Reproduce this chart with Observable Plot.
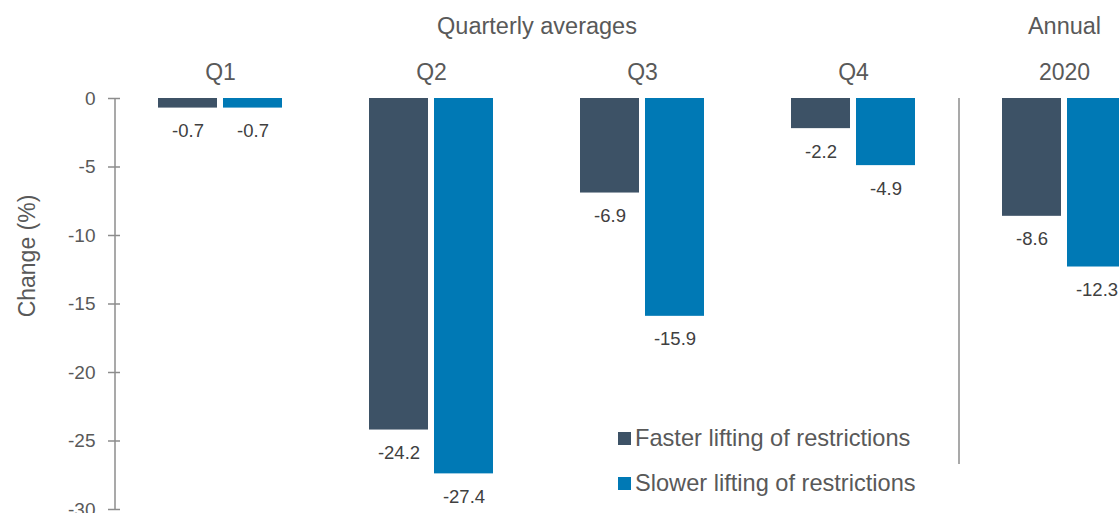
<!DOCTYPE html>
<html>
<head>
<meta charset="utf-8">
<script src="https://cdn.jsdelivr.net/npm/d3@7"></script>
<script src="https://cdn.jsdelivr.net/npm/@observablehq/plot@0.6"></script>
<style>
  html, body { margin: 0; padding: 0; background: #fff; }
  #wrap { position: relative; width: 1119px; height: 513px; overflow: hidden; font-family: "Liberation Sans", Arial, sans-serif; }
  #legend { position: absolute; left: 618px; top: 416px; color: #595959; font-size: 23.6px; }
  #legend .row { display: flex; align-items: center; height: 45px; }
  #legend .sw { width: 13px; height: 13px; margin-right: 4px; }
</style>
</head>
<body>
<div id="wrap"></div>
<script>
// Groups along the x axis: four quarters plus the annual figure
const groups = ["Q1", "Q2", "Q3", "Q4", "2020"];
// Scenario names and colours
const seriesNames = ["Faster lifting of restrictions", "Slower lifting of restrictions"];
const seriesColors = ["#3D5266", "#0079B5"];
// Change (%) per group, one array per scenario
const fasterValues = [-0.7, -24.2, -6.9, -2.2, -8.6];
const slowerValues = [-0.7, -27.4, -15.9, -4.9, -12.3];
// Y axis ticks
const yTicks = [0, -5, -10, -15, -20, -25, -30];
// Header texts
const quarterlyHeader = "Quarterly averages";
const annualHeader = "Annual";
const yLabel = "Change (%)";

const faster = groups.map((g, i) => ({group: g, value: fasterValues[i]}));
const slower = groups.map((g, i) => ({group: g, value: slowerValues[i]}));

const font = '"Liberation Sans", Arial, sans-serif';
const labelColor = "#404040";
const textColor = "#595959";
const axisColor = "#8C8C8C";
const halfStep = 105.5; // half the distance between group centres

const chart = Plot.plot({
  width: 1119,
  height: 513,
  marginTop: 98,
  marginBottom: 4,
  marginLeft: 115,
  marginRight: 0,
  style: {fontFamily: font, background: "white"},
  x: {domain: groups, range: [115, 1170], paddingInner: 0.412, paddingOuter: 0.206, axis: null},
  y: {domain: [-30, 0], axis: null},
  marks: [
    // y axis line
    Plot.ruleX(["Q1"], {x: d => d, dx: -halfStep, stroke: axisColor, strokeWidth: 1.5}),
    // separator before the annual group
    Plot.ruleX(["2020"], {x: d => d, dx: -halfStep, stroke: axisColor, strokeWidth: 1.5, insetBottom: 45}),
    Plot.axisY({ticks: yTicks, tickFormat: d => `${d}`, tickSize: 12, dx: 5, tickPadding: 13,
      stroke: axisColor, strokeWidth: 1.5, fill: textColor, fontSize: 19, label: null}),
    Plot.text([yLabel], {frameAnchor: "left", textAnchor: "middle", rotate: -90, dx: -88, dy: -48, fontSize: 23, fill: textColor}),
    Plot.axisX({anchor: "top", tickSize: 0, tickPadding: 19, fontSize: 23, fill: textColor, label: null}),
    Plot.text([quarterlyHeader], {x: () => "Q2", dx: halfStep, frameAnchor: "top", dy: -72, lineAnchor: "middle", fontSize: 23.5, fill: textColor}),
    Plot.text([annualHeader], {x: () => "2020", frameAnchor: "top", dy: -72, lineAnchor: "middle", fontSize: 23.5, fill: textColor}),
    // bars
    Plot.barY(faster, {x: "group", y: "value", fill: seriesColors[0], insetRight: 65}),
    Plot.barY(slower, {x: "group", y: "value", fill: seriesColors[1], insetLeft: 65}),
    // value labels below each bar
    Plot.text(faster, {x: "group", y: "value", text: d => d.value.toFixed(1), dx: -32.5, dy: 16, lineAnchor: "top", fontSize: 18.5, fill: labelColor}),
    Plot.text(slower, {x: "group", y: "value", text: d => d.value.toFixed(1), dx: 32.5, dy: 16, lineAnchor: "top", fontSize: 18.5, fill: labelColor})
  ]
});

const wrap = document.getElementById("wrap");
wrap.appendChild(chart);

// Legend
const legend = document.createElement("div");
legend.id = "legend";
seriesNames.forEach((name, i) => {
  const row = document.createElement("div");
  row.className = "row";
  const sw = document.createElement("span");
  sw.className = "sw";
  sw.style.background = seriesColors[i];
  const label = document.createElement("span");
  label.textContent = name;
  row.appendChild(sw);
  row.appendChild(label);
  legend.appendChild(row);
});
wrap.appendChild(legend);
</script>
</body>
</html>
